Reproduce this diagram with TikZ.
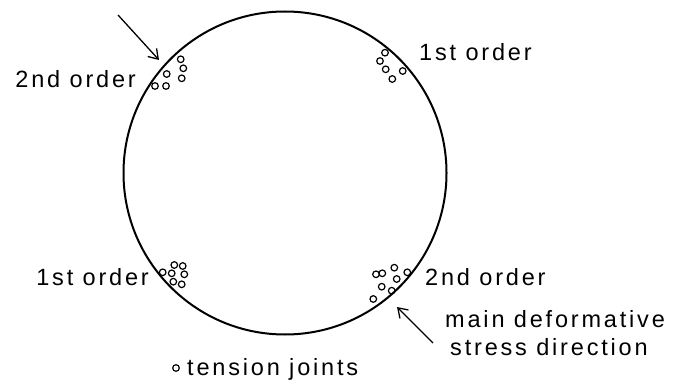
\documentclass[tikz,border=0pt]{standalone}
\usepackage{fontspec}
\setmainfont{Liberation Sans}[LetterSpace=12]
\usetikzlibrary{arrows.meta}
\begin{document}
\begin{tikzpicture}[x=1pt,y=-1pt,
  lbl/.style={font=\fontsize{23.5}{27}\selectfont, inner sep=0pt},
  joint/.style={draw, line width=1.2pt},
  pointer/.style={line width=1.3pt, -{Straight Barb[length=9pt,width=12pt]}}]
\useasboundingbox (0,0) rectangle (677,382);
\node[circle, draw, line width=2pt, minimum size=323pt, inner sep=0pt] (c) at (285,173) {};
% top-left cluster
\foreach \p in {(180.7,59.3),(183.3,68.3),(181.7,78.3),(166.7,74),(155,86),(166,86)}
  \draw[joint] \p circle[radius=3.3];
% top-right cluster
\foreach \p in {(385,52.7),(380,61),(385.7,69.3),(392.3,79),(402.7,71)}
  \draw[joint] \p circle[radius=3.3];
% bottom-left cluster
\foreach \p in {(174.3,265),(182.7,266),(162.7,272.3),(171.7,273.3),(184.3,274.3),(173.3,281.7),(181.7,284.3)}
  \draw[joint] \p circle[radius=3.3];
% bottom-right cluster
\foreach \p in {(376,274.3),(382.3,273.3),(394.3,267.7),(407.3,272.3),(396.7,279),(381.7,286.7),(391.7,290.7),(373.3,299)}
  \draw[joint] \p circle[radius=3.3];
% labels
\node[lbl, anchor=base east] (tl) at (136,88) {2nd order};
\node[lbl, anchor=base west] (tr) at (419,61) {1st order};
\node[lbl, anchor=base east] (bl) at (149,285) {1st order};
\node[lbl, anchor=base west] (br) at (425,285) {2nd order};
\node[lbl, anchor=base west] (m1) at (445,327) {main deformative};
\node[lbl, anchor=base west] (m2) at (450,355) {stress direction};
\node[lbl, anchor=base west] (tj) at (187,375) {tension joints};
\draw[joint] (176,368) circle[radius=3.3];
% arrows
\coordinate (a1s) at (118,15);
\coordinate (a1e) at (159,60);
\coordinate (a2s) at (433,343);
\coordinate (a2e) at (397,307);
\draw[pointer] (a1s) -- (a1e);
\draw[pointer] (a2s) -- (a2e);
\end{tikzpicture}
\end{document}
